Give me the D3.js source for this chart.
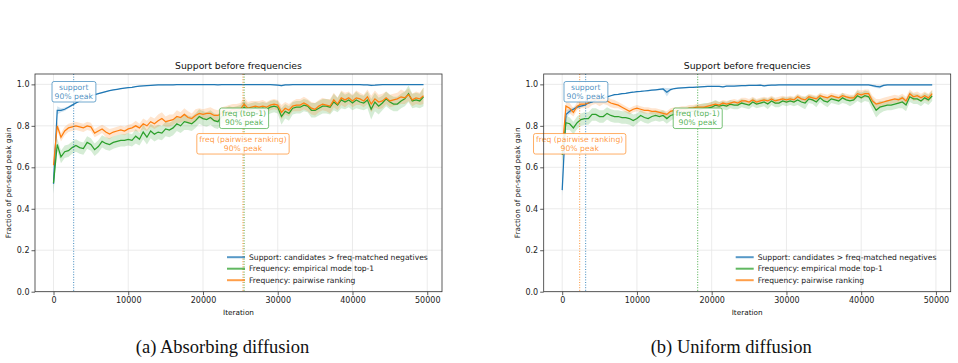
<!DOCTYPE html>
<html>
<head>
<meta charset="utf-8">
<script src="https://cdn.jsdelivr.net/npm/d3@7"></script>
<style>
  body { margin: 0; background: #fff; }
  svg { display: block; font-family: "DejaVu Sans", sans-serif; }
</style>
</head>
<body>
<svg id="chart" width="958" height="363"></svg>
<script>
// iterations sampled every 500 steps
const iterations = d3.range(0, 50000, 500);
const xTicks = [0, 10000, 20000, 30000, 40000, 50000];
const yTicks = [0, 0.2, 0.4, 0.6, 0.8, 1.0];

const seriesLabels = [
  'Support: candidates > freq-matched negatives',
  'Frequency: empirical mode top-1',
  'Frequency: pairwise ranking'
];
const peakLabels = ['support\n90% peak', 'freq (top-1)\n90% peak', 'freq (pairwise ranking)\n90% peak'];
const panelTitles = ['Support before frequencies', 'Support before frequencies'];
const captions = ['(a) Absorbing diffusion', '(b) Uniform diffusion'];

// ---- absorbing diffusion ----
const absSupport = [
  0.52, 0.875, 0.875, 0.88, 0.89, 0.90, 0.91, 0.92, 0.93, 0.935,
  0.945, 0.95, 0.955, 0.96, 0.965, 0.97, 0.973, 0.976, 0.979, 0.982,
  0.984, 0.986, 0.989, 0.991, 0.993, 0.994, 0.995, 0.996, 0.997, 0.997,
  0.998, 0.998, 0.998, 0.999, 0.999, 0.999, 0.999, 0.999, 0.999, 0.999,
  0.999, 0.999, 0.999, 0.999, 0.998, 0.999, 0.999, 0.999, 0.999, 0.999,
  0.999, 0.999, 0.999, 0.999, 0.999, 0.999, 0.999, 0.999, 0.999, 0.998,
  0.996, 0.994, 0.997, 0.998, 0.999, 0.999, 0.999, 0.999, 0.999, 0.999,
  0.999, 0.999, 0.999, 0.999, 0.999, 0.999, 0.999, 0.999, 0.999, 0.999,
  0.999, 0.999, 0.999, 0.998, 0.998, 0.995, 0.996, 0.998, 0.999, 0.999,
  0.999, 0.999, 0.999, 0.999, 0.999, 0.999, 0.999, 0.999, 0.999, 0.999
];
const absSupportSpread = [
  0.05, 0.02, 0.01, 0.008, 0.006, 0.005, 0.004, 0.004, 0.003, 0.003,
  0.003, 0.003, 0.003, 0.003, 0.003, 0.002, 0.002, 0.002, 0.002, 0.002,
  0.002, 0.002, 0.002, 0.002, 0.002, 0.002, 0.002, 0.002, 0.002, 0.002,
  0.002, 0.002, 0.002, 0.002, 0.002, 0.002, 0.002, 0.002, 0.002, 0.002,
  0.002, 0.002, 0.002, 0.002, 0.002, 0.002, 0.002, 0.002, 0.002, 0.002,
  0.002, 0.002, 0.002, 0.002, 0.002, 0.002, 0.002, 0.002, 0.002, 0.002,
  0.003, 0.004, 0.002, 0.002, 0.002, 0.002, 0.002, 0.002, 0.002, 0.002,
  0.002, 0.002, 0.002, 0.002, 0.002, 0.002, 0.002, 0.002, 0.002, 0.002,
  0.002, 0.002, 0.002, 0.002, 0.002, 0.004, 0.003, 0.002, 0.002, 0.002,
  0.002, 0.002, 0.002, 0.002, 0.002, 0.002, 0.002, 0.002, 0.002, 0.002
];
const absTop1 = [
  0.525, 0.71, 0.65, 0.675, 0.68, 0.695, 0.705, 0.695, 0.69, 0.72,
  0.71, 0.685, 0.70, 0.725, 0.715, 0.71, 0.72, 0.725, 0.73, 0.73,
  0.735, 0.73, 0.75, 0.735, 0.77, 0.745, 0.775, 0.76, 0.77, 0.765,
  0.785, 0.78, 0.79, 0.81, 0.80, 0.82, 0.815, 0.81, 0.825, 0.845,
  0.835, 0.83, 0.84, 0.825, 0.82, 0.845, 0.85, 0.86, 0.86, 0.865,
  0.87, 0.89, 0.875, 0.88, 0.885, 0.88, 0.885, 0.88, 0.89, 0.895,
  0.89, 0.845, 0.87, 0.86, 0.885, 0.89, 0.89, 0.90, 0.895, 0.875,
  0.875, 0.885, 0.895, 0.895, 0.89, 0.915, 0.90, 0.925, 0.915, 0.925,
  0.91, 0.925, 0.915, 0.91, 0.925, 0.88, 0.915, 0.895, 0.91, 0.93,
  0.915, 0.905, 0.905, 0.92, 0.93, 0.955, 0.92, 0.925, 0.92, 0.94
];
const absTop1Spread = [
  0.05, 0.03, 0.03, 0.03, 0.03, 0.03, 0.03, 0.03, 0.03, 0.03,
  0.03, 0.03, 0.03, 0.03, 0.03, 0.03, 0.03, 0.03, 0.03, 0.03,
  0.03, 0.03, 0.035, 0.03, 0.035, 0.035, 0.035, 0.035, 0.035, 0.035,
  0.035, 0.035, 0.035, 0.035, 0.035, 0.04, 0.035, 0.035, 0.035, 0.035,
  0.035, 0.035, 0.035, 0.035, 0.035, 0.035, 0.035, 0.035, 0.03, 0.03,
  0.03, 0.035, 0.03, 0.03, 0.03, 0.03, 0.03, 0.03, 0.03, 0.03,
  0.03, 0.04, 0.035, 0.035, 0.03, 0.03, 0.03, 0.03, 0.03, 0.035,
  0.035, 0.035, 0.035, 0.035, 0.035, 0.04, 0.035, 0.04, 0.035, 0.035,
  0.035, 0.04, 0.035, 0.035, 0.04, 0.05, 0.045, 0.04, 0.035, 0.035,
  0.035, 0.035, 0.035, 0.035, 0.035, 0.04, 0.035, 0.035, 0.035, 0.045
];
const absPair = [
  0.61, 0.80, 0.745, 0.775, 0.79, 0.795, 0.80, 0.795, 0.79, 0.80,
  0.795, 0.765, 0.775, 0.785, 0.77, 0.76, 0.77, 0.775, 0.78, 0.775,
  0.785, 0.79, 0.80, 0.79, 0.81, 0.80, 0.82, 0.81, 0.825, 0.835,
  0.82, 0.825, 0.83, 0.845, 0.84, 0.855, 0.84, 0.835, 0.85, 0.86,
  0.855, 0.86, 0.86, 0.85, 0.85, 0.86, 0.865, 0.87, 0.88, 0.875,
  0.88, 0.905, 0.885, 0.89, 0.895, 0.89, 0.895, 0.89, 0.90, 0.905,
  0.90, 0.865, 0.885, 0.875, 0.895, 0.90, 0.90, 0.91, 0.90, 0.885,
  0.88, 0.895, 0.905, 0.90, 0.895, 0.925, 0.905, 0.935, 0.925, 0.935,
  0.92, 0.935, 0.93, 0.92, 0.94, 0.905, 0.93, 0.915, 0.92, 0.935,
  0.92, 0.925, 0.93, 0.94, 0.935, 0.95, 0.925, 0.935, 0.93, 0.945
];
const absPairSpread = [
  0.02, 0.02, 0.02, 0.02, 0.02, 0.02, 0.02, 0.02, 0.02, 0.02,
  0.02, 0.02, 0.02, 0.02, 0.025, 0.025, 0.02, 0.02, 0.02, 0.02,
  0.02, 0.02, 0.025, 0.02, 0.025, 0.025, 0.025, 0.025, 0.03, 0.03,
  0.025, 0.03, 0.025, 0.03, 0.025, 0.03, 0.03, 0.025, 0.03, 0.025,
  0.025, 0.025, 0.03, 0.03, 0.025, 0.03, 0.03, 0.03, 0.025, 0.03,
  0.03, 0.035, 0.03, 0.03, 0.025, 0.03, 0.03, 0.025, 0.025, 0.025,
  0.025, 0.035, 0.03, 0.03, 0.025, 0.03, 0.03, 0.03, 0.03, 0.03,
  0.03, 0.03, 0.03, 0.03, 0.035, 0.035, 0.03, 0.035, 0.035, 0.03,
  0.03, 0.035, 0.03, 0.03, 0.035, 0.04, 0.04, 0.035, 0.035, 0.03,
  0.03, 0.03, 0.03, 0.035, 0.03, 0.03, 0.03, 0.03, 0.03, 0.04
];
// 90% peak iteration: support, top-1, pairwise
const absPeakIters = [2700, 25500, 25350];

// ---- uniform diffusion ----
const uniSupport = [
  0.49, 0.855, 0.87, 0.88, 0.89, 0.895, 0.90, 0.91, 0.915, 0.925,
  0.93, 0.935, 0.94, 0.945, 0.95, 0.952, 0.955, 0.957, 0.96, 0.962,
  0.965, 0.966, 0.968, 0.97, 0.972, 0.974, 0.976, 0.978, 0.962, 0.975,
  0.98, 0.982, 0.983, 0.984, 0.985, 0.986, 0.987, 0.988, 0.989, 0.99,
  0.99, 0.99, 0.99, 0.988, 0.991, 0.992, 0.992, 0.993, 0.994, 0.994,
  0.995, 0.995, 0.995, 0.996, 0.993, 0.995, 0.996, 0.996, 0.997, 0.997,
  0.997, 0.997, 0.997, 0.997, 0.997, 0.998, 0.998, 0.997, 0.998, 0.998,
  0.998, 0.998, 0.998, 0.998, 0.998, 0.998, 0.998, 0.997, 0.998, 0.998,
  0.998, 0.998, 0.998, 0.994, 0.99, 0.988, 0.995, 0.997, 0.998, 0.998,
  0.998, 0.998, 0.998, 0.998, 0.998, 0.997, 0.998, 0.998, 0.997, 0.997
];
const uniSupportSpread = [
  0.03, 0.02, 0.012, 0.01, 0.008, 0.006, 0.005, 0.005, 0.004, 0.004,
  0.004, 0.004, 0.003, 0.003, 0.003, 0.003, 0.003, 0.003, 0.003, 0.003,
  0.003, 0.003, 0.003, 0.003, 0.003, 0.003, 0.004, 0.006, 0.02, 0.006,
  0.003, 0.003, 0.003, 0.003, 0.003, 0.003, 0.003, 0.003, 0.003, 0.003,
  0.003, 0.003, 0.003, 0.004, 0.003, 0.003, 0.003, 0.003, 0.003, 0.003,
  0.003, 0.003, 0.003, 0.003, 0.004, 0.003, 0.003, 0.003, 0.003, 0.003,
  0.003, 0.003, 0.003, 0.003, 0.003, 0.003, 0.003, 0.003, 0.003, 0.003,
  0.003, 0.003, 0.003, 0.003, 0.003, 0.003, 0.003, 0.003, 0.003, 0.003,
  0.003, 0.003, 0.003, 0.005, 0.007, 0.008, 0.004, 0.003, 0.003, 0.003,
  0.003, 0.003, 0.003, 0.003, 0.003, 0.003, 0.003, 0.003, 0.003, 0.003
];
const uniTop1 = [
  0.66, 0.815, 0.81, 0.79, 0.815, 0.83, 0.835, 0.835, 0.855, 0.855,
  0.845, 0.845, 0.86, 0.85, 0.845, 0.845, 0.84, 0.84, 0.835, 0.825,
  0.835, 0.85, 0.84, 0.835, 0.845, 0.85, 0.845, 0.85, 0.835, 0.85,
  0.855, 0.855, 0.86, 0.865, 0.87, 0.87, 0.875, 0.88, 0.885, 0.885,
  0.89, 0.90, 0.895, 0.90, 0.895, 0.905, 0.90, 0.90, 0.91, 0.905,
  0.90, 0.915, 0.905, 0.91, 0.915, 0.905, 0.92, 0.91, 0.91, 0.92,
  0.915, 0.92, 0.915, 0.925, 0.915, 0.91, 0.93, 0.925, 0.915, 0.935,
  0.92, 0.915, 0.93, 0.925, 0.92, 0.935, 0.925, 0.92, 0.925, 0.945,
  0.935, 0.945, 0.94, 0.905, 0.875, 0.89, 0.895, 0.90, 0.90, 0.905,
  0.91, 0.915, 0.90, 0.94, 0.93, 0.93, 0.92, 0.935, 0.925, 0.945
];
const uniTop1Spread = [
  0.05, 0.035, 0.03, 0.03, 0.03, 0.03, 0.03, 0.03, 0.03, 0.03,
  0.03, 0.03, 0.03, 0.03, 0.03, 0.03, 0.03, 0.03, 0.03, 0.03,
  0.025, 0.025, 0.025, 0.025, 0.025, 0.025, 0.025, 0.025, 0.025, 0.025,
  0.02, 0.02, 0.02, 0.02, 0.02, 0.025, 0.025, 0.025, 0.025, 0.025,
  0.025, 0.025, 0.02, 0.02, 0.02, 0.02, 0.02, 0.02, 0.02, 0.02,
  0.02, 0.02, 0.02, 0.02, 0.02, 0.025, 0.02, 0.02, 0.02, 0.02,
  0.02, 0.02, 0.02, 0.025, 0.025, 0.03, 0.02, 0.02, 0.025, 0.02,
  0.02, 0.025, 0.02, 0.02, 0.02, 0.025, 0.02, 0.025, 0.02, 0.025,
  0.025, 0.025, 0.025, 0.03, 0.035, 0.03, 0.025, 0.025, 0.025, 0.025,
  0.025, 0.03, 0.03, 0.025, 0.025, 0.025, 0.025, 0.025, 0.025, 0.025
];
const uniPair = [
  0.68, 0.895, 0.885, 0.865, 0.895, 0.905, 0.905, 0.91, 0.925, 0.93,
  0.92, 0.925, 0.92, 0.91, 0.905, 0.90, 0.89, 0.88, 0.87, 0.88,
  0.885, 0.88, 0.875, 0.875, 0.87, 0.87, 0.865, 0.86, 0.855, 0.87,
  0.875, 0.875, 0.88, 0.88, 0.885, 0.885, 0.89, 0.89, 0.89, 0.895,
  0.90, 0.905, 0.90, 0.91, 0.905, 0.91, 0.915, 0.91, 0.92, 0.92,
  0.915, 0.925, 0.915, 0.92, 0.925, 0.92, 0.93, 0.92, 0.925, 0.93,
  0.925, 0.93, 0.925, 0.94, 0.93, 0.925, 0.94, 0.935, 0.93, 0.945,
  0.94, 0.935, 0.945, 0.94, 0.935, 0.945, 0.94, 0.935, 0.935, 0.955,
  0.95, 0.955, 0.955, 0.92, 0.905, 0.91, 0.915, 0.92, 0.925, 0.93,
  0.925, 0.935, 0.92, 0.955, 0.94, 0.945, 0.935, 0.945, 0.935, 0.955
];
const uniPairSpread = [
  0.03, 0.02, 0.025, 0.02, 0.02, 0.02, 0.02, 0.025, 0.025, 0.025,
  0.025, 0.02, 0.02, 0.02, 0.02, 0.015, 0.015, 0.015, 0.015, 0.015,
  0.015, 0.015, 0.015, 0.015, 0.015, 0.015, 0.015, 0.015, 0.015, 0.015,
  0.015, 0.015, 0.015, 0.015, 0.015, 0.015, 0.015, 0.015, 0.015, 0.015,
  0.015, 0.015, 0.015, 0.015, 0.015, 0.015, 0.015, 0.015, 0.015, 0.015,
  0.015, 0.015, 0.015, 0.015, 0.015, 0.015, 0.015, 0.015, 0.015, 0.015,
  0.015, 0.015, 0.015, 0.015, 0.015, 0.015, 0.015, 0.015, 0.015, 0.015,
  0.015, 0.015, 0.015, 0.015, 0.015, 0.015, 0.015, 0.015, 0.015, 0.02,
  0.02, 0.02, 0.02, 0.025, 0.025, 0.02, 0.02, 0.02, 0.02, 0.02,
  0.02, 0.02, 0.02, 0.02, 0.02, 0.02, 0.02, 0.02, 0.02, 0.02
];
const uniPeakIters = [3140, 18130, 2340];

const colors = ['#1f77b4', '#2ca02c', '#ff7f0e'];

const panels = [
  { left: 35, series: [absSupport, absTop1, absPair], spreads: [absSupportSpread, absTop1Spread, absPairSpread],
    peaks: absPeakIters, title: panelTitles[0], caption: captions[0] },
  { left: 543.7, series: [uniSupport, uniTop1, uniPair], spreads: [uniSupportSpread, uniTop1Spread, uniPairSpread],
    peaks: uniPeakIters, title: panelTitles[1], caption: captions[1] }
];

const plotW = 407, plotTop = 74, plotH = 217.7;
const annotY = [0.968, 0.84, 0.717];

const svg = d3.select('#chart');

panels.forEach((p) => {
  const g = svg.append('g').attr('transform', `translate(${p.left},${plotTop})`);
  const x = d3.scaleLinear().domain([-2475, 51975]).range([0, plotW]);
  const y = d3.scaleLinear().domain([0, 1.05]).range([plotH, 0]);

  // grid
  g.append('g').selectAll('line').data(xTicks).join('line')
    .attr('x1', (d) => x(d)).attr('x2', (d) => x(d)).attr('y1', 0).attr('y2', plotH)
    .attr('stroke', '#e6e6e6').attr('stroke-width', 0.8);
  g.append('g').selectAll('line').data(yTicks).join('line')
    .attr('y1', (d) => y(d)).attr('y2', (d) => y(d)).attr('x1', 0).attr('x2', plotW)
    .attr('stroke', '#e6e6e6').attr('stroke-width', 0.8);

  // bands
  p.series.forEach((vals, k) => {
    const area = d3.area()
      .x((d, i) => x(iterations[i]))
      .y0((d, i) => y(vals[i] - p.spreads[k][i]))
      .y1((d, i) => y(Math.min(vals[i] + p.spreads[k][i], 1.0)));
    g.append('path').attr('d', area(vals)).attr('fill', colors[k]).attr('fill-opacity', 0.2);
  });
  // lines
  p.series.forEach((vals, k) => {
    const line = d3.line().x((d, i) => x(iterations[i])).y((d) => y(d));
    g.append('path').attr('d', line(vals)).attr('fill', 'none')
      .attr('stroke', colors[k]).attr('stroke-width', 1.25);
  });

  // 90% peak markers
  p.peaks.forEach((it, k) => {
    g.append('line').attr('x1', x(it)).attr('x2', x(it)).attr('y1', 0).attr('y2', plotH)
      .attr('stroke', colors[k]).attr('stroke-width', 1).attr('stroke-dasharray', '1,1.6')
      .attr('opacity', 0.85);
  });
  p.peaks.forEach((it, k) => {
    const a = g.append('g').attr('transform', `translate(${x(it)},${y(annotY[k])})`);
    const box = a.append('rect');
    const t = a.append('text').attr('text-anchor', 'middle').attr('font-size', 7.7)
      .attr('fill', colors[k]).attr('fill-opacity', 0.8);
    peakLabels[k].split('\n').forEach((s, j) => {
      t.append('tspan').attr('x', 0).attr('y', j === 0 ? -1.3 : 7.8).text(s);
    });
    const bb = t.node().getBBox();
    box.attr('x', bb.x - 2.5).attr('y', bb.y - 1.2).attr('width', bb.width + 5).attr('height', bb.height + 2.4)
      .attr('rx', 2).attr('fill', '#fff').attr('fill-opacity', 0.9)
      .attr('stroke', colors[k]).attr('stroke-opacity', 0.8).attr('stroke-width', 0.8);
  });

  // axes
  const xa = g.append('g').attr('transform', `translate(0,${plotH})`)
    .call(d3.axisBottom(x).tickValues(xTicks).tickSize(3.5).tickPadding(2).tickFormat(d3.format('d')));
  const ya = g.append('g')
    .call(d3.axisLeft(y).tickValues(yTicks).tickSize(3.5).tickPadding(2).tickFormat(d3.format('.1f')));
  [xa, ya].forEach((a) => {
    a.select('.domain').remove();
    a.selectAll('text').attr('font-family', '"DejaVu Sans", sans-serif').attr('font-size', 8).attr('fill', '#222');
    a.selectAll('line').attr('stroke', '#333').attr('stroke-width', 0.8);
  });
  g.append('rect').attr('width', plotW).attr('height', plotH).attr('fill', 'none')
    .attr('stroke', '#333').attr('stroke-width', 0.8);

  // labels
  g.append('text').attr('x', plotW / 2).attr('y', -5.5).attr('text-anchor', 'middle')
    .attr('font-size', 9.3).attr('fill', '#111').text(p.title);
  g.append('text').attr('x', plotW / 2).attr('y', plotH + 23).attr('text-anchor', 'middle')
    .attr('font-size', 7.3).attr('fill', '#111').text('Iteration');
  g.append('text').attr('transform', `translate(-24,${plotH / 2}) rotate(-90)`).attr('text-anchor', 'middle')
    .attr('font-size', 7.3).attr('fill', '#111').text('Fraction of per-seed peak gain');

  // legend (no frame)
  const lg = g.append('g').attr('transform', `translate(${plotW - 215},${plotH - 34.5})`);
  seriesLabels.forEach((lab, k) => {
    const row = lg.append('g').attr('transform', `translate(0,${k * 11.5})`);
    row.append('line').attr('x1', 0).attr('x2', 18).attr('stroke', colors[k])
      .attr('stroke-width', 2).attr('stroke-opacity', 0.75);
    row.append('text').attr('x', 22).attr('y', 2.6).attr('font-size', 7.6).attr('fill', '#222').text(lab);
  });

  // caption
  svg.append('text').attr('x', p.left + plotW / 2 - 16).attr('y', 353).attr('text-anchor', 'middle')
    .attr('font-family', '"Liberation Serif", "DejaVu Serif", serif').attr('font-size', 18.5)
    .attr('fill', '#111').text(p.caption);
});
</script>
</body>
</html>
